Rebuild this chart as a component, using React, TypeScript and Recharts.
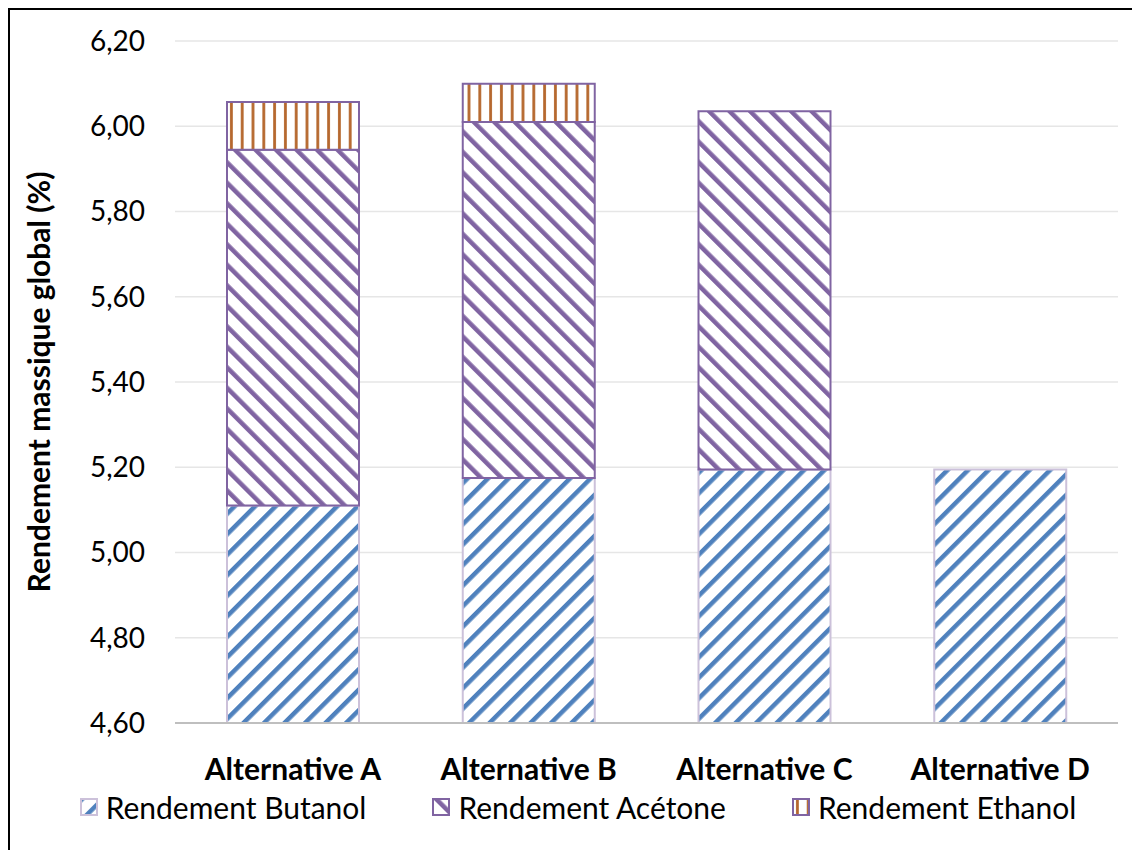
import { BarChart, Bar, XAxis, YAxis, CartesianGrid, Legend, Label } from "recharts"

const categories = ["Alternative A", "Alternative B", "Alternative C", "Alternative D"]
const butanol = [5.11, 5.175, 5.195, 5.195]
const acetone = [0.835, 0.835, 0.84, null]
const ethanol = [0.112, 0.09, null, null]
const yTicks = [4.6, 4.8, 5.0, 5.2, 5.4, 5.6, 5.8, 6.0, 6.2]

const data = categories.map((name, i) => ({
  name,
  butanol: butanol[i],
  acetone: acetone[i],
  ethanol: ethanol[i],
}))

const FONT = "Lato, 'Open Sans', sans-serif"
const BLUE = "#4f81bd"
const PURPLE = "#8064a2"
const BROWN = "#b5672d"
const LAVENDER = "#ccc1da"

const series = [
  { key: "butanol", name: "Rendement Butanol", fill: "url(#pBut)", stroke: LAVENDER },
  { key: "acetone", name: "Rendement Acétone", fill: "url(#pAce)", stroke: PURPLE },
  { key: "ethanol", name: "Rendement Ethanol", fill: "url(#pEth)", stroke: PURPLE },
]

function Patterns() {
  return (
    <svg width="0" height="0" style={{ position: "absolute" }}>
      <defs>
        <pattern id="pBut" patternUnits="userSpaceOnUse" width="14.5" height="14.5" patternTransform="rotate(45)">
          <rect width="14.5" height="14.5" fill="#fff" />
          <rect x="0" width="4.5" height="14.5" fill={BLUE} />
        </pattern>
        <pattern id="pAce" patternUnits="userSpaceOnUse" width="14.5" height="14.5" patternTransform="rotate(-45)">
          <rect width="14.5" height="14.5" fill="#fff" />
          <rect x="0" width="4.5" height="14.5" fill={PURPLE} />
        </pattern>
        <pattern id="pEth" patternUnits="userSpaceOnUse" width="10.8" height="10">
          <rect width="10.8" height="10" fill="#fff" />
          <rect x="4" width="2.8" height="10" fill={BROWN} />
        </pattern>
      </defs>
    </svg>
  )
}

function LegendContent() {
  return (
    <div
      style={{
        display: "flex",
        justifyContent: "center",
        alignItems: "center",
        gap: 66,
        height: 40,
        fontFamily: FONT,
        fontSize: 30,
        color: "#000",
        paddingLeft: 12,
      }}
    >
      {series.map((s) => (
        <div key={s.key} style={{ display: "flex", alignItems: "center", gap: 8 }}>
          <svg width="18" height="18">
            <rect x="1" y="1" width="16" height="16" fill={s.fill} stroke={s.stroke} strokeWidth="2" />
          </svg>
          <span>{s.name}</span>
        </div>
      ))}
    </div>
  )
}

const fmt = (v: number) => v.toFixed(2).replace(".", ",")

export default function App() {
  return (
    <div
      style={{
        position: "relative",
        width: 1124,
        height: 840,
        borderTop: "2px solid #000",
        borderLeft: "2px solid #000",
        background: "#fff",
        fontFamily: FONT,
      }}
    >
      <Patterns />
      <BarChart width={1124} height={840} data={data} margin={{ top: 31, right: 16, bottom: 27, left: 0 }} barSize={132}>
        <CartesianGrid vertical={false} stroke="#e6e6e6" strokeWidth={1.5} />
        <XAxis
          dataKey="name"
          height={60}
          tickSize={0}
          tickMargin={36}
          axisLine={{ stroke: "#bfbfbf", strokeWidth: 2 }}
          tick={{ fill: "#000", fontSize: 30, fontWeight: 700, fontFamily: FONT }}
        />
        <YAxis
          width={165}
          domain={[4.6, 6.2]}
          ticks={yTicks}
          allowDataOverflow
          tickFormatter={fmt}
          tickSize={0}
          tickMargin={30}
          axisLine={false}
          tick={{ fill: "#000", fontSize: 28, fontFamily: FONT }}
        >
          <Label
            content={({ viewBox }: any) => {
              const cx = viewBox.x + 28
              const cy = viewBox.y + viewBox.height / 2
              return (
                <text
                  x={cx}
                  y={cy}
                  transform={`rotate(-90 ${cx} ${cy})`}
                  textAnchor="middle"
                  dominantBaseline="central"
                  fontSize={30}
                  fontWeight={700}
                  fontFamily={FONT}
                  fill="#000"
                >
                  Rendement massique global (%)
                </text>
              )
            }}
          />
        </YAxis>
        <Legend
          verticalAlign="bottom"
          content={<LegendContent />}
          wrapperStyle={{ top: 777, left: 0, width: 1124, bottom: "auto" }}
        />
        {series.map((s) => (
          <Bar
            key={s.key}
            dataKey={s.key}
            name={s.name}
            stackId="a"
            fill={s.fill}
            stroke={s.stroke}
            strokeWidth={2}
            isAnimationActive={false}
          />
        ))}
      </BarChart>
    </div>
  )
}
